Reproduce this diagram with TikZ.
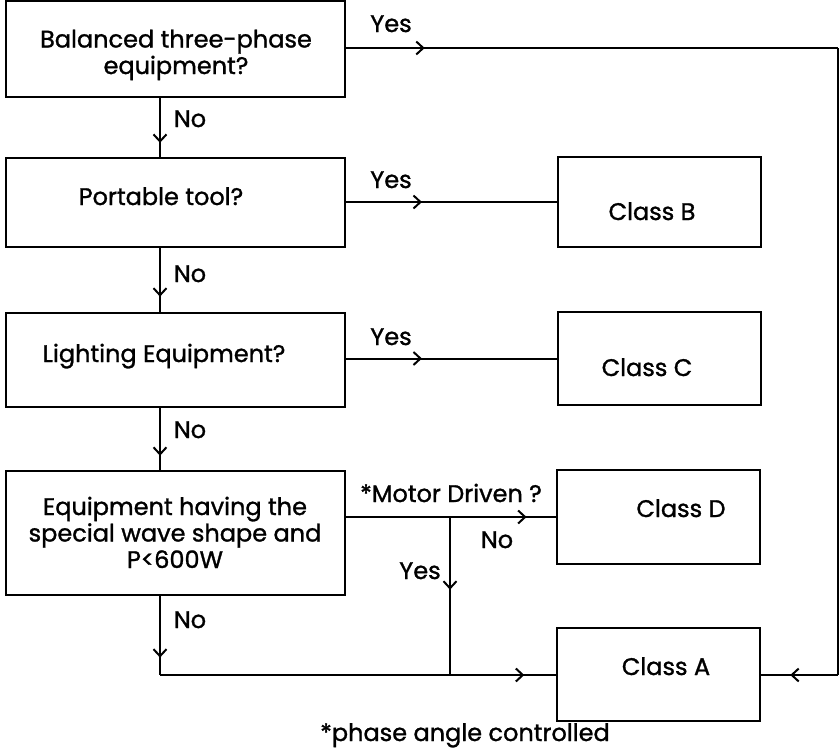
\documentclass[tikz,border=0pt]{standalone}
\usepackage{fontspec}
\setmainfont{Poppins}[FakeBold=1.2]
\usetikzlibrary{arrows.meta,decorations.markings}
\tikzset{
  box/.style={draw,line width=2pt,minimum width=#1,inner sep=0pt},
  lbl/.style={anchor=base,inner sep=0pt,font=\fontsize{24}{26}\selectfont},
  mlbl/.style={align=center,anchor=base,inner sep=0pt,font=\fontsize{24}{26.5}\selectfont},
  conn/.style={line width=2pt},
  midarr/.style={conn,postaction={decorate,decoration={markings,
      mark=at position #1 with {\arrow{Straight Barb[length=7pt,width=13pt,line width=2pt]}}}}}
}
\begin{document}
\begin{tikzpicture}[x=1pt,y=-1pt]
\useasboundingbox (0,0) rectangle (839,755);
% boxes
\node[box=339pt,minimum height=96pt] (b1) at (175.5,49) {};
\node[box=339pt,minimum height=89pt] (b2) at (175.5,202.5) {};
\node[box=339pt,minimum height=94pt] (b3) at (175.5,360) {};
\node[box=339pt,minimum height=124pt] (b4) at (175.5,533) {};
\node[box=203pt,minimum height=90pt] (cB) at (659.5,202) {};
\node[box=203pt,minimum height=93pt] (cC) at (659.5,358.5) {};
\node[box=203pt,minimum height=94pt] (cD) at (658.5,517) {};
\node[box=203pt,minimum height=93pt] (cA) at (658.5,674.5) {};
% texts
\node[mlbl] (t1) at (176,74) {Balanced three-phase\\equipment?};
\node[lbl] (t2) at (161,205) {Portable tool?};
\node[lbl] (t3) at (164,362) {Lighting Equipment?};
\node[mlbl] (t4) at (175,568) {Equipment having the\\special wave shape and\\P<600W};
\node[lbl] (tB) at (652,220) {Class B};
\node[lbl] (tC) at (647,376) {Class C};
\node[lbl] (tD) at (681,517) {Class D};
\node[lbl] (tA) at (666,675) {Class A};
% coordinates
\coordinate (vx) at (160,0);
\coordinate (tr) at (838,48);
\coordinate (br) at (838,675);
\coordinate (bl) at (160,675);
\coordinate (jt) at (450,517);
\coordinate (jb) at (450,675);
% connectors
\draw[midarr=0.16] (b1.east |- tr) -- (tr);
\draw[conn] (tr) -- (br);
\draw[midarr=0.62] (br) -- (cA.east |- br);
\draw[midarr=0.76] (b1.south -| vx) -- (b2.north -| vx);
\draw[midarr=0.76] (b2.south -| vx) -- (b3.north -| vx);
\draw[midarr=0.77] (b3.south -| vx) -- (b4.north -| vx);
\draw[midarr=0.78] (b4.south -| vx) -- (bl);
\draw[midarr=0.92] (bl) -- (cA.west |- bl);
\draw[midarr=0.36] (b2.east |- cB.west) -- (cB.west);
\draw[midarr=0.36] (b3.east |- cC.west) -- (cC.west);
\draw[midarr=0.86] (b4.east |- cD.west) -- (cD.west);
\draw[midarr=0.46] (jt) -- (jb);
% labels
\node[lbl] (y1) at (391,32) {Yes};
\node[lbl] (y2) at (391,188) {Yes};
\node[lbl] (y3) at (391,345) {Yes};
\node[lbl] (n1) at (190,127) {No};
\node[lbl] (n2) at (190,282) {No};
\node[lbl] (n3) at (190,438) {No};
\node[lbl] (n4) at (190,628) {No};
\node[lbl] (md) at (451,502) {*Motor Driven ?};
\node[lbl] (n5) at (497,548) {No};
\node[lbl] (y4) at (420,579) {Yes};
\node[lbl] (fn) at (465,741) {*phase angle controlled};
\end{tikzpicture}
\end{document}
